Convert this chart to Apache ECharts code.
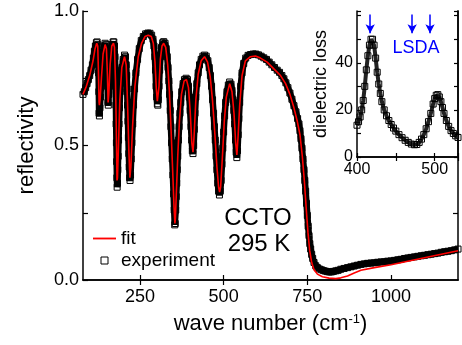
<!DOCTYPE html>
<html>
<head>
<meta charset="utf-8">
<script src="https://cdn.jsdelivr.net/npm/echarts@6/dist/echarts.min.js"></script>
<style>
  html, body { margin: 0; padding: 0; background: #fff; }
  #chart { width: 462px; height: 345px; }
</style>
</head>
<body>
<div id="chart"></div>
<script>
// reflectivity, experiment
const expWave = [
  80, 84, 88, 92, 96, 100, 104, 108, 111, 114, 117, 120, 122,
  124, 125.5, 126.5, 127.3, 128, 129, 130.5, 132, 134, 136, 138, 140, 143, 146,
  149, 151, 152.5, 153.5, 154.5, 155.5, 157, 159, 161, 164, 167, 170, 172,
  174, 175.5, 176.5, 177.5, 178.3, 179, 179.8, 180.5, 181.2, 182, 183, 184, 185, 186.2, 187.5, 189, 191, 193.5, 196.5, 200, 204,
  207, 209, 210.5, 211.8, 213, 214.3, 215.5, 216.8, 218, 219.3, 220.5, 222, 224, 226, 228.5, 231, 234, 238, 243, 248, 254, 260, 267, 274, 280, 285,
  289, 292, 294.5, 296.5, 298.3, 300, 302, 303.5, 305, 307, 309, 311.5, 314.5, 318, 321,
  325, 328.5, 331.5, 334, 336.5, 338.5, 340.5, 342.5, 344.5, 346.5, 348.5, 350.5, 352.3, 354,
  355.5, 357, 358.5, 360, 361.5, 363, 365, 367, 369.5, 372, 375, 379, 383, 388,
  392, 395, 397.5, 400, 402.5, 404.5, 406.5, 408.5, 410.5, 412.5, 414.5, 417, 420, 424, 428, 433, 438, 443,
  448, 453, 457, 460.5, 464, 467, 470, 472.5, 475, 477.5, 480, 482.5, 485, 487.5,
  490, 492.5, 495, 497.5, 500, 503, 506, 510, 514, 518,
  522, 525, 528, 530.5, 533, 535.5, 537.5, 539.5, 541.5, 543.5, 545.5, 548, 551, 555, 560, 566, 573, 580, 588, 596,
  604, 612, 620, 628, 636, 644, 652, 660, 667, 674, 680, 686, 692, 698, 704, 710, 716, 721, 725, 728, 731, 734, 737, 740,
  742.5, 745, 747.5, 750, 752.5, 755, 757.5, 760, 763, 766, 770, 775, 780, 786, 792, 798, 804, 810, 816, 822, 828, 835, 842, 850,
  860, 870, 880, 890, 900, 910, 920, 930, 940, 950, 960, 970, 980, 990, 1000, 1010, 1020, 1030, 1040, 1050,
  1060, 1070, 1080, 1090, 1100, 1110, 1120, 1130, 1140, 1150, 1160, 1170, 1180, 1190, 1200
];
const expR = [
  .69, .70, .715, .73, .745, .76, .78, .80, .825, .85, .87, .882, .885,
  .875, .83, .77, .70, .62, .61, .64, .68, .73, .77, .81, .84, .87, .88,
  .875, .84, .78, .72, .66, .65, .69, .75, .80, .85, .875, .885, .885,
  .87, .83, .78, .72, .65, .58, .51, .44, .38, .345, .36, .41, .46, .52, .58, .64, .70, .75, .79, .82, .836,
  .83, .80, .76, .71, .65, .59, .53, .47, .42, .38, .37, .39, .45, .51, .58, .65, .71, .77, .82, .86, .89, .905, .915, .918, .917, .91,
  .895, .87, .83, .78, .72, .68, .655, .65, .67, .72, .78, .83, .865, .882, .886,
  .88, .86, .83, .79, .74, .69, .63, .57, .51, .45, .39, .32, .26, .205,
  .21, .26, .31, .36, .41, .46, .52, .57, .62, .66, .70, .73, .745, .75,
  .745, .72, .68, .63, .57, .52, .48, .47, .50, .56, .62, .68, .73, .77, .80, .82, .832, .836,
  .832, .815, .79, .76, .72, .67, .62, .57, .52, .46, .41, .36, .33, .316,
  .33, .37, .43, .49, .55, .61, .66, .70, .725, .736,
  .728, .705, .67, .63, .58, .52, .475, .455, .48, .54, .60, .66, .72, .77, .805, .825, .835, .838, .84, .84,
  .837, .832, .826, .82, .81, .80, .79, .78, .772, .76, .748, .733, .715, .695, .672, .648, .625, .60, .58, .555, .525, .49, .45, .41,
  .37, .33, .285, .24, .20, .165, .135, .115, .095, .08, .065, .053, .046, .041, .038, .035, .033, .031, .030, .030, .032, .034, .036, .04,
  .043, .046, .049, .052, .055, .058, .06, .062, .063, .064, .066, .067, .068, .07, .071, .073, .075, .077, .08, .082,
  .084, .086, .088, .09, .092, .094, .096, .098, .10, .103, .105, .107, .109, .112, .115
];

// reflectivity, fit
const fitWave = [
  80, 90, 100, 110, 116, 121, 124, 126, 128, 129, 131, 135, 140, 146,
  150, 153, 155, 157, 161, 166, 171, 174, 177, 179.5, 181.5, 183, 186, 190, 196, 204,
  209, 213, 217, 220, 223, 228, 235, 245, 255, 265, 275, 284, 290, 295, 299, 302, 304, 307, 311, 316, 321,
  327, 333, 338, 343, 348, 352, 354.5, 356, 359, 363, 368, 374, 382, 389, 395, 400, 405, 408.5, 412, 417, 424, 433, 443,
  452, 460, 467, 474, 480, 485, 488, 491, 496, 502, 508, 518, 525, 531, 536, 539.5, 543, 548, 555, 565, 580, 595,
  610, 630, 650, 670, 685, 698, 710, 720, 728, 735, 741, 747, 752, 757, 763, 770, 780, 795, 815, 835,
  850, 870, 890, 910, 950, 1000, 1050, 1100, 1150, 1200
];
const fitR = [
  .69, .72, .76, .815, .86, .88, .87, .78, .66, .65, .67, .75, .84, .875,
  .86, .76, .66, .69, .80, .87, .88, .865, .74, .56, .37, .38, .50, .67, .79, .83,
  .80, .66, .48, .38, .42, .57, .72, .83, .88, .905, .91, .905, .88, .81, .71, .665, .665, .72, .82, .87, .88,
  .865, .80, .70, .56, .40, .27, .21, .23, .33, .46, .59, .69, .74, .745, .715, .63, .51, .475, .54, .67, .765, .815, .83,
  .81, .755, .665, .54, .42, .345, .327, .345, .45, .59, .68, .73, .70, .62, .51, .465, .53, .65, .76, .815, .83, .833,
  .825, .81, .785, .76, .73, .69, .64, .59, .54, .46, .37, .26, .175, .11, .065, .038, .022, .012, .007, .005,
  .008, .015, .026, .036, .046, .057, .07, .083, .096, .109
];

// inset: dielectric loss
const lossWave = [
  400, 402, 404, 406, 408, 410, 412, 414, 416, 418, 420, 422, 424, 426, 428, 430,
  432, 435, 438, 441, 444, 447, 450,
  454, 458, 462, 466, 470, 474, 477, 480, 483, 486, 489, 492, 495, 498,
  500, 502, 504, 506, 508, 510, 512,
  515, 518, 521, 524, 527, 530
];
const lossVal = [
  13.5, 15, 17, 20, 24, 30, 37, 43, 47.5, 50, 50, 47.5, 42, 36, 31, 27,
  23.5, 20, 17.5, 15.5, 13.8, 12.3, 11,
  9.5, 8.2, 7.1, 6.2, 5.5, 5.2, 5.3, 6.2, 7.6, 9.5, 12, 15, 18.5, 22.5,
  24.8, 26.2, 26.5, 25.5, 23.5, 21, 18.5,
  15.5, 13, 11.2, 10, 9, 8.3
];
const lsdaModes = [417, 471, 494];

const mainXTicks = [250, 500, 750, 1000];
const mainYLabels = [0, 0.5, 1.0];
const insetXLabels = [400, 500];
const insetYLabels = [0, 20, 40];

if (expWave.length !== expR.length || fitWave.length !== fitR.length || lossWave.length !== lossVal.length) {
  throw new Error('length mismatch');
}

const pair = (xs, ys) => xs.map((x, i) => [x, ys[i]]);
const font = 'Liberation Sans, Arial, Helvetica, sans-serif';
const axisLine = { show: true, lineStyle: { color: '#000', width: 1.5 } };
const tick = { inside: true, length: 5, lineStyle: { color: '#000', width: 1.2 } };
const squares = {
  type: 'line',
  symbol: 'rect',
  symbolSize: 6,
  itemStyle: { color: 'rgba(0,0,0,0)', borderColor: '#000', borderWidth: 1 },
  silent: true,
  emphasis: { disabled: true }
};

const chart = echarts.init(document.getElementById('chart'), null, { renderer: 'canvas' });

chart.setOption({
  animation: false,
  backgroundColor: '#fff',
  textStyle: { fontFamily: font },
  grid: [
    { left: 83, right: 4, top: 11, bottom: 65, containLabel: false, outerBoundsMode: 'none' },
    { left: 357, right: 4, top: 11, bottom: 188, containLabel: false, outerBoundsMode: 'none' }
  ],
  xAxis: [
    {
      gridIndex: 0, type: 'value', min: 80, max: 1200,
      axisLine, axisTick: { ...tick, customValues: mainXTicks },
      axisLabel: { customValues: mainXTicks, formatter: v => String(v), fontSize: 18, color: '#000', margin: 8 },
      splitLine: { show: false },
      name: 'wave number (cm{sup|-1})', nameLocation: 'middle', nameGap: 33,
      nameTextStyle: { fontSize: 22, color: '#000', rich: { sup: { fontSize: 13, verticalAlign: 'top', color: '#000' } } }
    },
    {
      gridIndex: 0, type: 'value', position: 'top', min: 80, max: 1200,
      axisLine, axisTick: { ...tick, customValues: [250, 500, 750] },
      axisLabel: { show: false }, splitLine: { show: false }
    },
    {
      gridIndex: 1, type: 'value', min: 400, max: 530, interval: 50,
      axisLine, axisTick: { ...tick, length: 4 },
      axisLabel: { customValues: insetXLabels, fontSize: 16, color: '#000', margin: 5 },
      splitLine: { show: false }
    },
    {
      gridIndex: 1, type: 'value', position: 'top', min: 400, max: 530, interval: 50,
      axisLine, axisTick: { ...tick, length: 4 },
      axisLabel: { show: false }, splitLine: { show: false }
    }
  ],
  yAxis: [
    {
      gridIndex: 0, type: 'value', min: 0, max: 1, interval: 0.25,
      axisLine, axisTick: tick,
      axisLabel: { customValues: mainYLabels, formatter: v => v.toFixed(1), fontSize: 18, color: '#000', margin: 4 },
      splitLine: { show: false },
      name: 'reflectivity', nameLocation: 'middle', nameGap: 45,
      nameTextStyle: { fontSize: 22, color: '#000' }
    },
    {
      gridIndex: 0, type: 'value', position: 'right', min: 0, max: 1,
      axisLine, axisTick: { ...tick, customValues: [0.25] },
      axisLabel: { show: false }, splitLine: { show: false }
    },
    {
      gridIndex: 1, type: 'value', min: 0, max: 62, interval: 10,
      axisLine, axisTick: { ...tick, length: 4 },
      axisLabel: { customValues: insetYLabels, fontSize: 16, color: '#000', margin: 4 },
      splitLine: { show: false },
      name: 'dielectric loss', nameLocation: 'middle', nameGap: 27,
      nameTextStyle: { fontSize: 18, color: '#000' }
    },
    {
      gridIndex: 1, type: 'value', position: 'right', min: 0, max: 62, interval: 10,
      axisLine, axisTick: { ...tick, length: 4 },
      axisLabel: { show: false }, splitLine: { show: false }
    }
  ],
  legend: {
    left: 88, top: 224, orient: 'vertical',
    itemWidth: 23, itemHeight: 7, itemGap: 3,
    textStyle: { fontSize: 19, color: '#000' },
    data: [
      { name: 'fit', icon: 'path://M0 0H20V1.6H0Z', itemStyle: { color: '#ff0000' } },
      { name: 'experiment', icon: 'path://M0 0H6V6H0Z', itemStyle: { color: '#fff', borderColor: '#000', borderWidth: 1 } }
    ]
  },
  series: [
    {
      ...squares, name: 'experiment', xAxisIndex: 0, yAxisIndex: 0,
      data: pair(expWave, expR),
      lineStyle: { color: '#000', width: 6.5 },
      z: 2
    },
    {
      type: 'line', name: 'fit', xAxisIndex: 0, yAxisIndex: 0,
      data: pair(fitWave, fitR),
      symbol: 'none', silent: true,
      itemStyle: { color: '#ff0000' },
      lineStyle: { color: '#ff0000', width: 1.6 },
      z: 3
    },
    {
      ...squares, name: 'loss', xAxisIndex: 2, yAxisIndex: 2,
      data: pair(lossWave, lossVal),
      lineStyle: { color: '#222', width: 4 },
      markLine: {
        silent: true, symbol: ['none', 'arrow'], symbolSize: [7, 9],
        label: { show: false },
        lineStyle: { color: '#0000ff', width: 1.5, type: 'solid' },
        data: lsdaModes.map(v => [{ coord: [v, 60.5] }, { coord: [v, 52.5] }])
      }
    }
  ],
  graphic: [
    { type: 'text', x: 258, y: 218, style: { text: 'CCTO', font: '24px ' + font, fill: '#000', align: 'center', verticalAlign: 'middle' } },
    { type: 'text', x: 259, y: 244, style: { text: '295 K', font: '24px ' + font, fill: '#000', align: 'center', verticalAlign: 'middle' } },
    { type: 'text', x: 416, y: 48, style: { text: 'LSDA', font: '18px ' + font, fill: '#0000ff', align: 'center', verticalAlign: 'middle' } }
  ]
});
</script>
</body>
</html>
